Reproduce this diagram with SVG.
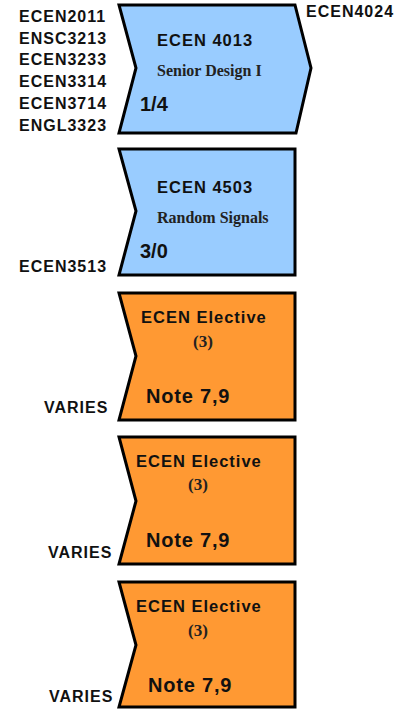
<svg xmlns="http://www.w3.org/2000/svg" width="396" height="711" viewBox="0 0 396 711">
<style>
.shape{stroke:#000;stroke-width:3;stroke-linejoin:miter}
.blue{fill:#99CCFF}
.orange{fill:#FF9933}
.lbl{font-family:"Liberation Sans",Arial,sans-serif;font-weight:bold;font-size:16px;letter-spacing:1px;fill:#111}
.title{font-family:"Liberation Sans",Arial,sans-serif;font-weight:bold;font-size:16.5px;letter-spacing:1px;fill:#111}
.sub{font-family:"Liberation Serif","Times New Roman",serif;font-weight:bold;font-size:16px;fill:#222}
.par{font-family:"Liberation Serif","Times New Roman",serif;font-weight:bold;font-size:17px;fill:#222}
.cr{font-family:"Liberation Sans",Arial,sans-serif;font-weight:bold;font-size:20px;fill:#111}
.note{font-family:"Liberation Sans",Arial,sans-serif;font-weight:bold;font-size:20px;letter-spacing:0.8px;fill:#111}
</style>
<rect width="396" height="711" fill="#fff"/>
<g id="connectors"/>
<g id="ecen4013">
<path class="shape blue" d="M119,5 H295 L311,68 L296,133 H119 L136,68 Z"/>
<text class="title" x="157" y="46">ECEN 4013</text>
<text class="sub" x="157" y="76">Senior Design I</text>
<text class="cr" x="140" y="111">1/4</text>
</g>
<g id="prereq4013">
<text class="lbl" x="19" y="22">ECEN2011</text>
<text class="lbl" x="19" y="43.5">ENSC3213</text>
<text class="lbl" x="19" y="65">ECEN3233</text>
<text class="lbl" x="19" y="87">ECEN3314</text>
<text class="lbl" x="19" y="108.5">ECEN3714</text>
<text class="lbl" x="19" y="130.5">ENGL3323</text>
<text class="lbl" x="306" y="17">ECEN4024</text>
</g>
<g id="ecen4503">
<path class="shape blue" d="M119,149 H295 V275 H119 L136,211 Z"/>
<text class="title" x="157" y="193">ECEN 4503</text>
<text class="sub" x="157" y="222.5">Random Signals</text>
<text class="cr" x="140" y="258">3/0</text>
<text class="lbl" x="19" y="271.5">ECEN3513</text>
</g>
<g id="elective1">
<path class="shape orange" d="M119,293 H295 V420 H119 L136,356 Z"/>
<text class="title" x="141" y="323">ECEN Elective</text>
<text class="par" x="193" y="346.5">(3)</text>
<text class="note" x="146" y="403">Note 7,9</text>
<text class="lbl" x="44" y="413">VARIES</text>
</g>
<g id="elective2">
<path class="shape orange" d="M119,437 H295 V564 H119 L136,501 Z"/>
<text class="title" x="136" y="467">ECEN Elective</text>
<text class="par" x="188" y="490">(3)</text>
<text class="note" x="146" y="547">Note 7,9</text>
<text class="lbl" x="48" y="558">VARIES</text>
</g>
<g id="elective3">
<path class="shape orange" d="M119,582 H295 V707 H119 L136,645 Z"/>
<text class="title" x="136" y="611.5">ECEN Elective</text>
<text class="par" x="188" y="635.5">(3)</text>
<text class="note" x="148" y="691.5">Note 7,9</text>
<text class="lbl" x="49" y="701.5">VARIES</text>
</g>
</svg>
